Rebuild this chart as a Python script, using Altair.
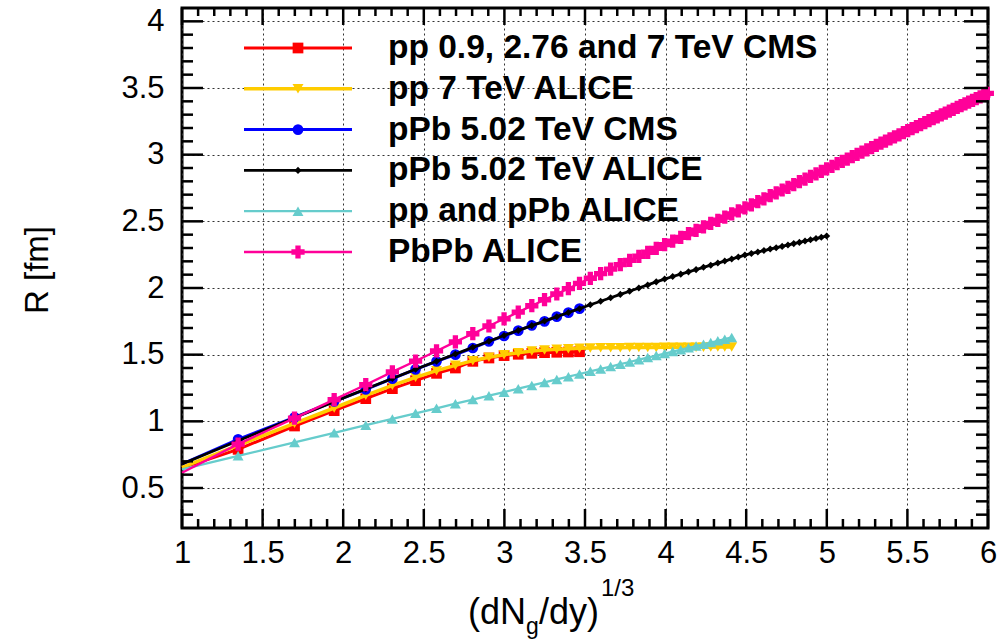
import altair as alt
import pandas as pd

# ---------------------------------------------------------------- data
# (dN_g/dy)^(1/3) sampling points shared by the curves
x_grid = [
    1.348, 1.698, 1.944, 2.140, 2.305, 2.449, 2.579, 2.696, 2.804, 2.904,
    2.998, 3.086, 3.170, 3.249, 3.325, 3.397, 3.466, 3.533, 3.597, 3.659,
    3.719, 3.777, 3.834, 3.889, 3.942, 3.994, 4.044, 4.094, 4.142, 4.189,
    4.235, 4.280, 4.324, 4.367, 4.410, 4.451, 4.492, 4.532, 4.572, 4.610,
    4.649, 4.686, 4.723, 4.759, 4.795, 4.830, 4.865, 4.899, 4.933, 4.966,
    4.999, 5.032, 5.064, 5.096, 5.127, 5.158, 5.188, 5.218, 5.248, 5.278,
    5.307, 5.336, 5.364, 5.392, 5.420, 5.448, 5.475, 5.502, 5.529, 5.556,
    5.582, 5.608, 5.634, 5.660, 5.685, 5.710, 5.735, 5.760, 5.784, 5.809,
    5.833, 5.857, 5.880, 5.904, 5.927, 5.951, 5.974, 5.996,
]

series_names = [
    "pp 0.9, 2.76 and 7 TeV CMS",
    "pp 7 TeV ALICE",
    "pPb 5.02 TeV CMS",
    "pPb 5.02 TeV ALICE",
    "pp and pPb ALICE",
    "PbPb ALICE",
]

# R [fm] where each curve enters the frame at (dN_g/dy)^(1/3) = 1
r_at_one = [0.65, 0.655, 0.68, 0.68, 0.64, 0.615]

r_pp_cms = [0.79, 0.965, 1.08, 1.17, 1.245, 1.305, 1.36, 1.40, 1.45, 1.475,
            1.493, 1.503, 1.51, 1.515, 1.518, 1.52, 1.522]

r_pp_alice = [0.82, 0.985, 1.10, 1.195, 1.27, 1.33, 1.38, 1.42, 1.455, 1.48,
              1.50, 1.515, 1.527, 1.535, 1.541, 1.545, 1.548, 1.550, 1.551, 1.552,
              1.552, 1.553, 1.553, 1.554, 1.554, 1.555, 1.555, 1.555, 1.556, 1.556,
              1.556, 1.557, 1.557, 1.557, 1.558]

r_ppb_cms = [0.865, 1.030, 1.150, 1.240, 1.320, 1.390, 1.450, 1.500, 1.550, 1.600,
             1.640, 1.680, 1.720, 1.750, 1.785, 1.815, 1.845]

r_ppb_alice = [0.854, 1.027, 1.148, 1.242, 1.321, 1.391, 1.451, 1.505, 1.555, 1.601,
               1.644, 1.682, 1.718, 1.752, 1.785, 1.816, 1.845, 1.874, 1.901, 1.927,
               1.952, 1.976, 2.000, 2.023, 2.046, 2.067, 2.086, 2.104, 2.121, 2.138,
               2.155, 2.171, 2.187, 2.202, 2.218, 2.232, 2.247, 2.259, 2.270, 2.281,
               2.292, 2.302, 2.312, 2.323, 2.333, 2.342, 2.352, 2.362, 2.371, 2.380,
               2.390]

r_pp_ppb_alice = [0.741, 0.842, 0.914, 0.971, 1.018, 1.060, 1.098, 1.132, 1.163, 1.192,
                  1.219, 1.245, 1.269, 1.292, 1.314, 1.335, 1.355, 1.375, 1.393, 1.411,
                  1.429, 1.445, 1.462, 1.478, 1.493, 1.508, 1.523, 1.537, 1.551, 1.565,
                  1.578, 1.591, 1.604, 1.616, 1.629]

r_pbpb_alice = [0.829, 1.024, 1.163, 1.275, 1.371, 1.452, 1.528, 1.596, 1.657, 1.715,
                1.769, 1.819, 1.867, 1.912, 1.955, 1.996, 2.035, 2.073, 2.108, 2.142,
                2.175, 2.207, 2.238, 2.268, 2.297, 2.325, 2.352, 2.380, 2.407, 2.433,
                2.459, 2.484, 2.508, 2.532, 2.556, 2.578, 2.601, 2.624, 2.647, 2.669,
                2.692, 2.713, 2.735, 2.755, 2.776, 2.797, 2.817, 2.837, 2.856, 2.875,
                2.894, 2.913, 2.932, 2.950, 2.967, 2.985, 3.002, 3.019, 3.036, 3.053,
                3.070, 3.086, 3.102, 3.118, 3.134, 3.149, 3.165, 3.180, 3.195, 3.211,
                3.225, 3.240, 3.255, 3.270, 3.284, 3.298, 3.312, 3.326, 3.340, 3.354,
                3.367, 3.381, 3.394, 3.408, 3.420, 3.434, 3.447, 3.460]

series_values = [r_pp_cms, r_pp_alice, r_ppb_cms, r_ppb_alice, r_pp_ppb_alice, r_pbpb_alice]

# axis ticks
x_major = [1, 1.5, 2, 2.5, 3, 3.5, 4, 4.5, 5, 5.5, 6]
y_major = [0.5, 1, 1.5, 2, 2.5, 3, 3.5, 4]
x_minor = [round(1 + 0.1 * i, 1) for i in range(51) if i % 5]
y_minor = [round(0.2 + 0.1 * i, 1) for i in range(1, 39) if round(0.2 + 0.1 * i, 1) not in y_major]

# ---------------------------------------------------------------- style
colors = ["#ff0000", "#ffcc00", "#0000ff", "#000000", "#66cccc", "#ff0099"]
shapes = ["square", "triangle-down", "circle", "diamond", "triangle-up", "cross"]
sizes = [115, 120, 115, 50, 120, 175]
widths = [3, 3.5, 3, 2.8, 2.3, 2.3]

W, H = 806, 520
FONT = "Liberation Sans, Arial, Helvetica, sans-serif"

x_scale = alt.Scale(domain=[1, 6], nice=False, zero=False)
y_scale = alt.Scale(domain=[0.2, 4.1], nice=False, zero=False)

x_axis = alt.Axis(values=x_major, format="~g", ticks=False, domain=False,
                  grid=True, gridDash=[2, 3], gridColor="#333333", gridWidth=1,
                  labelFont=FONT, labelFontSize=31, labelColor="#000000",
                  labelPadding=10, labelFlush=False, labelOverlap=False, title=None)
y_axis = alt.Axis(values=y_major, format="~g", ticks=False, domain=False,
                  grid=True, gridDash=[2, 3], gridColor="#333333", gridWidth=1,
                  labelFont=FONT, labelFontSize=31, labelColor="#000000",
                  labelPadding=18, labelOverlap=False, title=None)


def X(field="x"):
    return alt.X(f"{field}:Q", scale=x_scale, axis=x_axis, title=None)


def Y(field="y"):
    return alt.Y(f"{field}:Q", scale=y_scale, axis=y_axis, title=None)


layers = []

# curves: line through all points, markers on the sampled points
for i, (name, vals) in enumerate(zip(series_names, series_values)):
    xs = x_grid[:len(vals)]
    line_df = pd.DataFrame({"x": [1.0] + xs, "y": [r_at_one[i]] + vals})
    pts_df = pd.DataFrame({"x": xs, "y": vals})
    layers.append(
        alt.Chart(line_df).mark_line(color=colors[i], strokeWidth=widths[i])
        .encode(x=X(), y=Y())
    )
    layers.append(
        alt.Chart(pts_df).mark_point(shape=shapes[i], filled=True, size=sizes[i],
                                     color=colors[i], opacity=1, strokeWidth=0)
        .encode(x=X(), y=Y())
    )


# inward tick marks on all four sides
def x_ticks(vals, y0, y1):
    return alt.Chart(pd.DataFrame({"x": vals})).mark_rule(color="black", strokeWidth=2.5).encode(
        x=X(), y=alt.value(y0), y2=alt.value(y1))


def y_ticks(vals, x0, x1):
    return alt.Chart(pd.DataFrame({"y": vals})).mark_rule(color="black", strokeWidth=2.5).encode(
        y=Y(), x=alt.value(x0), x2=alt.value(x1))


layers += [
    x_ticks(x_major, H, H - 19), x_ticks(x_minor, H, H - 9),
    x_ticks(x_major, 0, 17), x_ticks(x_minor, 0, 8),
    y_ticks(y_major, 0, 21), y_ticks(y_minor, 0, 11),
    y_ticks(y_major, W, W - 24), y_ticks(y_minor, W, W - 12),
]

# legend: line segment, marker and label for each series
for i, name in enumerate(series_names):
    row_y = 40 + 40.8 * i
    one = pd.DataFrame({"label": [name]})
    layers.append(alt.Chart(one).mark_rule(color=colors[i], strokeWidth=widths[i]).encode(
        x=alt.value(62), x2=alt.value(170), y=alt.value(row_y)))
    layers.append(alt.Chart(one).mark_point(shape=shapes[i], filled=True, size=sizes[i],
                                            color=colors[i], opacity=1, strokeWidth=0).encode(
        x=alt.value(116), y=alt.value(row_y)))
    layers.append(alt.Chart(one).mark_text(align="left", baseline="middle", font=FONT,
                                           fontSize=33.5, fontWeight="bold", color="black").encode(
        x=alt.value(206), y=alt.value(row_y), text="label:N"))

# axis titles
title_parts = [
    ("(dN", 286, H + 96, 36),
    ("g", 344, H + 106, 23),
    ("/dy)", 357, H + 96, 36),
    ("1/3", 419, H + 68, 24),
]
for txt, px, py, fs in title_parts:
    layers.append(alt.Chart(pd.DataFrame({"t": [txt]})).mark_text(
        align="left", baseline="alphabetic", font=FONT, fontSize=fs, color="black").encode(
        x=alt.value(px), y=alt.value(py), text="t:N"))

layers.append(alt.Chart(pd.DataFrame({"t": ["R [fm]"]})).mark_text(
    align="center", baseline="middle", angle=270, font=FONT, fontSize=33, color="black").encode(
    x=alt.value(-144), y=alt.value(262), text="t:N"))

chart = alt.layer(*layers).properties(
    width=W, height=H,
    autosize=alt.AutoSizeParams(type="none"),
    padding={"left": 182, "top": 8, "right": 10, "bottom": 115},
    background="white",
).configure_view(stroke="black", strokeWidth=3)

chart.save("out.html", embed_options={"renderer": "svg", "actions": False})
